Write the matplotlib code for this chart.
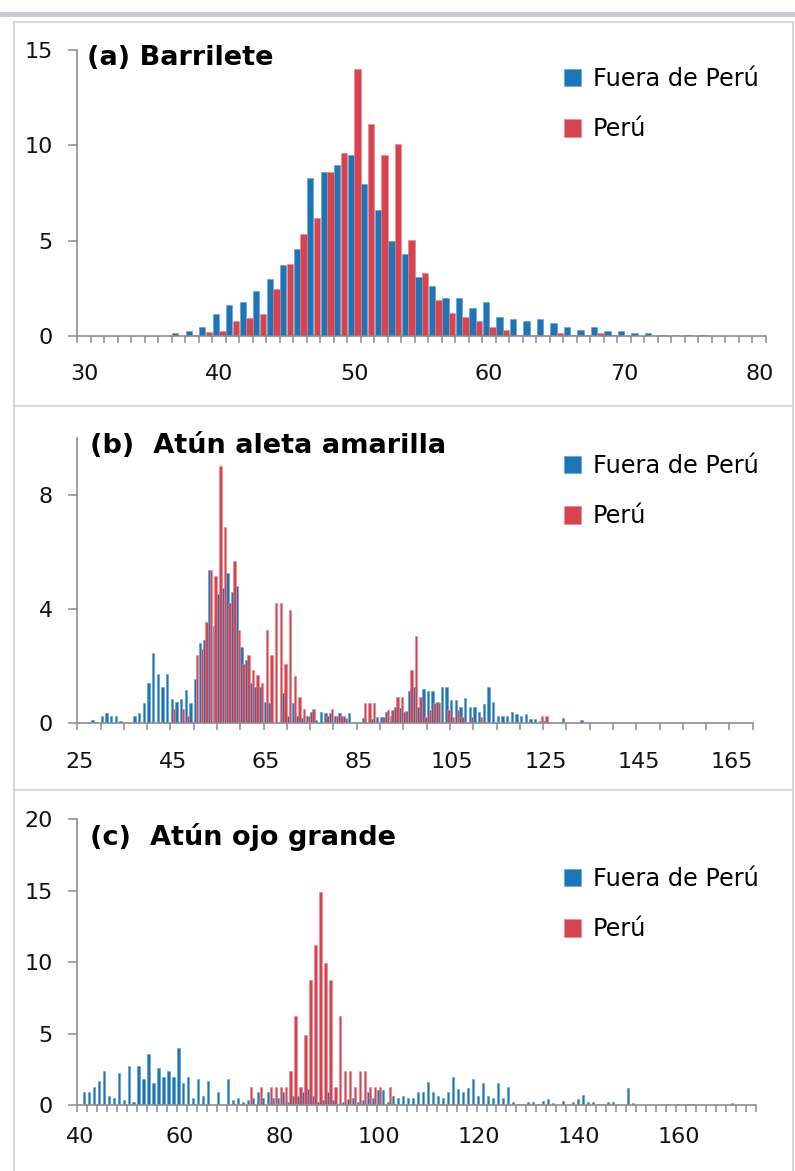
import matplotlib.pyplot as plt
from matplotlib.patches import Rectangle
import numpy as np

plt.rcParams['font.family'] = ['DejaVu Sans']

BLUE = '#1b75b6'
RED = '#d7434e'
GRIS = '#8c8c8c'

# (a) Barrilete: tallas 30-80 cm
a_tallas = list(range(30, 81))
a_fuera = [0.02, 0.02, 0.02, 0.02, 0.02, 0.02, 0.02, 0.15, 0.26, 0.49,
           1.15, 1.6, 1.8, 2.36, 3.0, 3.7, 4.56, 8.3, 8.6, 8.95,
           9.5, 7.95, 6.62, 5.0, 4.3, 3.08, 2.62, 2.0, 2.0, 1.47,
           1.77, 1.0, 0.9, 0.78, 0.9, 0.67, 0.45, 0.33, 0.45, 0.24,
           0.24, 0.15, 0.15, 0.05, 0.04, 0.03, 0.03, 0.02, 0.02, 0.02,
           0.02]
a_peru = [0, 0, 0, 0, 0, 0, 0, 0, 0.05, 0.2,
          0.26, 0.8, 0.93, 1.15, 2.48, 3.78, 5.35, 6.2, 8.6, 9.6,
          14.0, 11.13, 9.5, 10.05, 5.05, 3.3, 1.87, 1.22, 1.0, 0.79,
          0.45, 0.33, 0.03, 0.02, 0.02, 0.14, 0.03, 0.05, 0.15, 0.03,
          0.02, 0.02, 0.01, 0.01, 0.01, 0.01, 0.01, 0.01, 0.01, 0.01,
          0.01]

# (b) Atun aleta amarilla: tallas 25-169 cm
b_tallas = list(range(25, 170))
b_fuera = [0, 0, 0, 0.1, 0, 0.23, 0.33, 0.23, 0.23, 0.07,
           0, 0, 0.23, 0.33, 0.68, 1.41, 2.45, 1.7, 1.26, 1.7,
           0.83, 0.73, 0.83, 1.14, 0.68, 1.55, 2.8, 2.9, 5.37, 3.4,
           4.5, 4.72, 5.25, 4.58, 4.8, 2.66, 2.2, 1.41, 1.26, 1.26,
           0.73, 0.68, 0, 0, 1.05, 0.23, 0.68, 0.23, 0.15, 0.23,
           0.38, 0.1, 0.38, 0.33, 0.33, 0.23, 0.33, 0.23, 0.33, 0,
           0, 0.15, 0, 0.13, 0.2, 0.2, 0.36, 0.24, 0.54, 0.51,
           0.36, 1.1, 1.26, 0.54, 1.2, 1.12, 1.12, 0.73, 1.26, 1.26,
           0.8, 0.8, 0.54, 0.88, 0.54, 0.54, 0.38, 0.66, 1.26, 0.73,
           0.22, 0.22, 0.22, 0.36, 0.3, 0.22, 0.32, 0.14, 0.14, 0.05,
           0.07, 0, 0, 0, 0.15, 0, 0, 0, 0.1, 0,
           0, 0, 0, 0, 0, 0, 0, 0, 0, 0,
           0, 0, 0, 0, 0, 0, 0, 0, 0, 0,
           0, 0, 0, 0, 0, 0, 0, 0, 0, 0,
           0, 0, 0, 0, 0]
b_peru = [0, 0, 0, 0, 0, 0, 0, 0, 0, 0,
          0, 0, 0, 0, 0, 0, 0, 0, 0, 0,
          0.47, 0, 0.47, 0.23, 0, 2.37, 2.6, 3.55, 5.37, 5.16,
          9.0, 6.85, 4.2, 5.66, 3.26, 2.07, 2.37, 1.86, 1.67, 1.41,
          3.26, 2.37, 4.2, 4.2, 2.07, 3.97, 1.63, 0.91, 0.47, 0.23,
          0.47, 0, 0, 0.23, 0.47, 0.23, 0.23, 0.15, 0, 0,
          0, 0.68, 0.68, 0.68, 0, 0.2, 0.44, 0.44, 0.89, 0.89,
          0.42, 1.86, 3.03, 0.9, 0.2, 0.44, 0.7, 0.7, 0, 0.45,
          0.2, 0.44, 0.2, 0, 0.2, 0, 0.2, 0, 0, 0,
          0, 0, 0, 0, 0, 0, 0, 0, 0, 0.22,
          0.22, 0, 0, 0, 0, 0, 0, 0, 0, 0,
          0, 0, 0, 0, 0, 0, 0, 0, 0, 0,
          0, 0, 0, 0, 0, 0, 0, 0, 0, 0,
          0, 0, 0, 0, 0, 0, 0, 0, 0, 0,
          0, 0, 0, 0, 0]

# (c) Atun ojo grande: tallas 40-175 cm
c_tallas = list(range(40, 176))
c_fuera = [0, 0.93, 0.93, 1.24, 1.68, 2.4, 0.63, 0.47, 2.26, 0.35,
           2.73, 0.23, 2.73, 1.82, 3.57, 1.52, 2.57, 1.98, 2.4, 1.98,
           4.0, 1.52, 1.98, 0.47, 1.82, 0.63, 1.68, 0, 0.93, 0,
           1.82, 0.35, 0.47, 0.23, 0.35, 0.47, 0.93, 0.47, 0.93, 0.47,
           0.47, 0.93, 0.23, 0.63, 0.63, 0.93, 1.1, 0.63, 0.23, 0.35,
           0.93, 0.35, 0, 0.23, 0.4, 0.47, 0.23, 0.35, 0.93, 0.47,
           1.05, 1.05, 0.23, 0.63, 0.47, 0.63, 0.47, 0.47, 0.93, 0.93,
           1.63, 0.93, 0.63, 0.47, 0.93, 1.98, 1.1, 0.93, 1.17, 1.8,
           0.63, 1.52, 0.63, 0.47, 1.52, 0.47, 1.24, 0.23, 0.1, 0.1,
           0.2, 0.2, 0.1, 0.3, 0.45, 0.15, 0, 0.3, 0, 0.2,
           0.45, 0.7, 0.2, 0.2, 0.1, 0.1, 0.2, 0.2, 0.1, 0,
           1.2, 0.15, 0, 0, 0, 0, 0, 0, 0.1, 0,
           0.1, 0, 0.1, 0.1, 0, 0, 0, 0, 0, 0,
           0, 0.15, 0, 0, 0, 0]
c_peru = [0, 0, 0, 0, 0, 0, 0, 0, 0, 0,
          0, 0, 0, 0, 0, 0, 0, 0, 0, 0,
          0, 0, 0, 0, 0, 0, 0, 0, 0, 0,
          0, 0, 0, 0, 1.24, 0, 1.24, 0, 1.24, 1.24,
          1.24, 1.24, 2.4, 6.23, 1.24, 4.9, 8.75, 11.22, 14.9, 9.92,
          8.75, 1.24, 6.23, 2.4, 2.4, 1.24, 2.4, 2.4, 1.24, 1.24,
          1.24, 0, 1.24, 0, 0, 0, 0, 0, 0, 0,
          0, 0, 0, 0, 0, 0, 0, 0, 0, 0,
          0, 0, 0, 0, 0, 0, 0, 0, 0, 0,
          0, 0, 0, 0, 0, 0, 0, 0, 0, 0,
          0, 0, 0, 0, 0, 0, 0, 0, 0, 0,
          0, 0, 0, 0, 0, 0, 0, 0, 0, 0,
          0, 0, 0, 0, 0, 0, 0, 0, 0, 0,
          0, 0, 0, 0, 0, 0]

W, H = 795, 1171
fig = plt.figure(figsize=(W / 100, H / 100), dpi=100)

# marco de fondo en pixeles
bg = fig.add_axes([0, 0, 1, 1])
bg.set_xlim(0, W)
bg.set_ylim(H, 0)
bg.axis('off')
bg.add_patch(Rectangle((0, 11.5), W, 5.5, color='#c9cdd2', lw=0))
for y in (21.5, 405.5, 789.5):
    bg.plot([14, 793], [y, y], color='#cfcfcf', lw=1.2)
bg.plot([14, 14], [21.5, H], color='#cfcfcf', lw=1.2)
bg.plot([793, 793], [21.5, H], color='#cfcfcf', lw=1.2)


def px_axes(left, top, right, bottom):
    ax = fig.add_axes([left / W, 1 - bottom / H, (right - left) / W, (bottom - top) / H])
    ax.patch.set_alpha(0)
    return ax


def panel(ax, tallas, fuera, peru, width, offset, tick_every, label_every,
          ymax, yticks, xpad, titulo, title_xy, leg_top):
    x = np.arange(len(tallas))
    ax.bar(x - offset, fuera, width, color=BLUE, edgecolor='#5d9ed2',
           linewidth=0.4, label='Fuera de Perú')
    ax.bar(x + offset, peru, width, color=RED, edgecolor='#e6858c',
           linewidth=0.4, label='Perú')
    ax.set_xlim(-0.5, len(tallas) - 0.5)
    ax.set_ylim(0, ymax)
    ax.set_yticks(yticks)
    ax.set_yticklabels([str(v) for v in yticks])
    ax.set_xticks(np.arange(-0.5, len(tallas), tick_every))
    ax.set_xticklabels([])
    idx = [i for i, t in enumerate(tallas) if (t - tallas[0]) % label_every == 0]
    ax.set_xticks(idx, minor=True)
    ax.set_xticklabels([str(tallas[i]) for i in idx], minor=True)
    for s in ('top', 'right'):
        ax.spines[s].set_visible(False)
    for s in ('left', 'bottom'):
        ax.spines[s].set_color(GRIS)
        ax.spines[s].set_linewidth(1.2)
    ax.tick_params(axis='y', length=6.5, width=1.1, color=GRIS, pad=11,
                   labelsize=16, labelcolor='#111111')
    ax.tick_params(axis='x', which='major', length=5, width=1.1, color=GRIS)
    ax.tick_params(axis='x', which='minor', length=0, pad=xpad,
                   labelsize=16, labelcolor='#111111')
    bg.text(title_xy[0], title_xy[1], titulo, fontsize=19.5, fontweight='bold',
            va='baseline', ha='left')
    ax.legend(loc='upper left', bbox_to_anchor=(564 / W, 1 - leg_top / H),
              bbox_transform=fig.transFigure, frameon=False, fontsize=17.3,
              handlelength=0.72, handleheight=0.72, handletextpad=0.48,
              labelspacing=1.1, borderpad=0, borderaxespad=0)


ax_a = px_axes(77.3, 50, 766, 336)
panel(ax_a, a_tallas, a_fuera, a_peru, 0.47, 0.245, 1, 10, 15, [0, 5, 10, 15],
      20, '(a) Barrilete', (87, 65), 67)

ax_b = px_axes(77.3, 437.7, 752.7, 722.7)
panel(ax_b, b_tallas, b_fuera, b_peru, 0.52, 0.21, 5, 20, 10, [0, 4, 8],
      21, '(b)  Atún aleta amarilla', (90, 453), 454)

ax_c = px_axes(77.3, 819.3, 756, 1105)
panel(ax_c, c_tallas, c_fuera, c_peru, 0.42, 0.23, 2, 20, 20, [0, 5, 10, 15, 20],
      16, '(c)  Atún ojo grande', (90, 845), 867)

fig.savefig('out.png', dpi=100, facecolor='white')
